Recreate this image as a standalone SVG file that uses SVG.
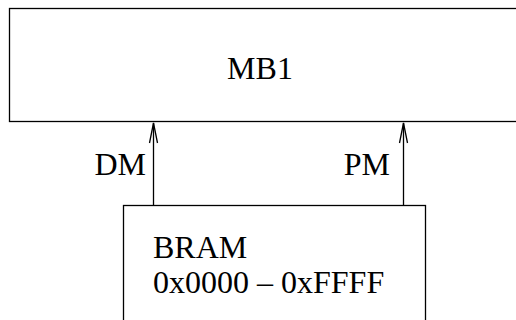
<svg xmlns="http://www.w3.org/2000/svg" width="516" height="320" viewBox="0 0 516 320">
<defs>
<style>
.box{fill:#fff;stroke:#000;stroke-width:1.3}
.t{font-family:"Liberation Serif","Times New Roman",serif;font-size:32px;fill:#000}
.c{stroke:#000;stroke-width:1.3;fill:none}
</style>
<marker id="ah" markerWidth="24" markerHeight="12" refX="0" refY="0" orient="auto" markerUnits="userSpaceOnUse" viewBox="-22 -6 24 12">
<path d="M-20,-4 L0,0 L-20,4" fill="none" stroke="#000" stroke-width="1.3"/>
</marker>
</defs>
<g id="MB1">
<rect class="box" x="9.5" y="8.5" width="520" height="113"/>
<text class="t" x="260" y="79" text-anchor="middle">MB1</text>
</g>
<g id="BRAM">
<rect class="box" x="123.5" y="205.5" width="302" height="130"/>
<text class="t" x="153" y="258">BRAM</text>
<text class="t" x="153" y="293">0x0000 – 0xFFFF</text>
</g>
<g id="connectors">
<line class="c" x1="153.5" y1="205" x2="153.5" y2="123" marker-end="url(#ah)"/>
<line class="c" x1="403.5" y1="205" x2="403.5" y2="123" marker-end="url(#ah)"/>
<text class="t" x="146" y="175" text-anchor="end">DM</text>
<text class="t" x="390" y="175" text-anchor="end">PM</text>
</g>
</svg>
